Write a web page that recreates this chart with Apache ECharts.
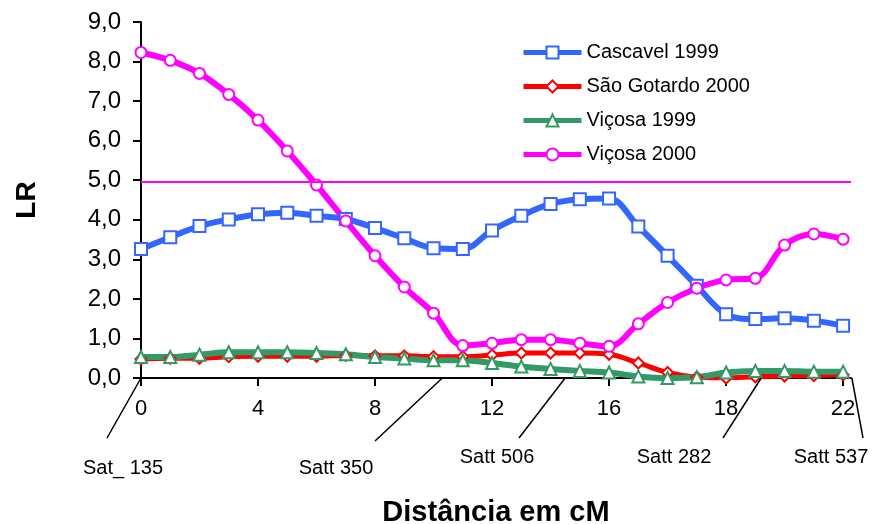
<!DOCTYPE html>
<html>
<head>
<meta charset="utf-8">
<script src="https://cdn.jsdelivr.net/npm/echarts@6/dist/echarts.min.js"></script>
<style>
  html, body { margin: 0; padding: 0; background: #fff; }
  #chart { width: 874px; height: 524px; }
</style>
</head>
<body>
<div id="chart"></div>
<script>
// Map positions along the linkage group (evenly spaced steps)
const positions = [0, 1, 2, 3, 4, 5, 6, 7, 8, 9, 10, 11, 12, 13, 14, 15, 16, 17, 18, 19, 20, 21, 22, 23, 24];

// Axis tick values and the labels printed under them
const xTickValues = [0, 4, 8, 12, 16, 20, 24];
const xTickLabels = ['0', '4', '8', '12', '16', '18', '22'];

// LR profiles
const cascavel1999 = [3.26, 3.56, 3.84, 4.01, 4.14, 4.18, 4.10, 4.02, 3.79, 3.53, 3.28, 3.26, 3.73,
                      4.10, 4.40, 4.52, 4.54, 3.83, 3.09, 2.33, 1.61, 1.49, 1.51, 1.45, 1.32];
const saoGotardo2000 = [0.48, 0.50, 0.50, 0.54, 0.55, 0.55, 0.55, 0.57, 0.56, 0.56, 0.54, 0.54, 0.58,
                        0.63, 0.63, 0.63, 0.60, 0.38, 0.14, 0.02, 0.00, 0.03, 0.05, 0.06, 0.08];
const vicosa1999 = [0.53, 0.53, 0.59, 0.65, 0.65, 0.65, 0.63, 0.60, 0.53, 0.49, 0.45, 0.45, 0.38,
                    0.29, 0.23, 0.18, 0.14, 0.04, 0.00, 0.02, 0.14, 0.18, 0.18, 0.16, 0.16];
const vicosa2000 = [8.23, 8.03, 7.70, 7.17, 6.52, 5.74, 4.88, 3.97, 3.09, 2.30, 1.64, 0.82, 0.88,
                    0.97, 0.97, 0.88, 0.80, 1.37, 1.91, 2.27, 2.48, 2.52, 3.36, 3.64, 3.51];

// Significance threshold
const lrThreshold = 4.95;

// Microsatellite markers and their map positions
const markerNames = ['Sat_ 135', 'Satt 350', 'Satt 506', 'Satt 282', 'Satt 537'];
const markerPositions = [0, 10.3, 14.5, 21.2, 24.3];

const FONT = "'Liberation Sans', Arial, Helvetica, sans-serif";

function pairs(values) {
  return positions.map((p, i) => [p, values[i]]);
}

function lineSeries(name, values, color, symbol, symbolSize, width) {
  return {
    name: name,
    type: 'line',
    data: pairs(values),
    smooth: 0.35,
    symbol: symbol,
    symbolSize: symbolSize,
    showAllSymbol: true,
    lineStyle: { color: color, width: width },
    itemStyle: { color: '#ffffff', borderColor: color, borderWidth: 2 },
    emphasis: { disabled: true },
    animation: false
  };
}

const chart = echarts.init(document.getElementById('chart'), null, { renderer: 'canvas' });

const magenta = lineSeries('Viçosa 2000', vicosa2000, '#ff00ff', 'circle', 11, 6);
magenta.markLine = {
  silent: true,
  symbol: 'none',
  label: { show: false },
  lineStyle: { color: '#ff00ff', width: 2, type: 'solid' },
  data: [{ yAxis: lrThreshold }],
  animation: false
};

chart.setOption({
  backgroundColor: '#ffffff',
  animation: false,
  textStyle: { fontFamily: FONT },
  grid: { left: 141, right: 23, top: 22, bottom: 146, outerBoundsMode: 'none' },
  legend: {
    left: 516,
    top: 37,
    orient: 'vertical',
    itemWidth: 58,
    itemHeight: 15,
    itemGap: 13,
    selectedMode: false,
    lineStyle: { width: 5 },
    textStyle: { fontFamily: FONT, fontSize: 20, color: '#000', lineHeight: 21 },
    data: ['Cascavel 1999', 'São Gotardo 2000', 'Viçosa 1999', 'Viçosa 2000']
  },
  xAxis: {
    type: 'value',
    min: 0,
    max: 24.27,
    splitLine: { show: false },
    axisLine: { onZero: false, lineStyle: { color: '#000', width: 2 } },
    axisTick: { show: true, length: 8, lineStyle: { color: '#000', width: 2 }, customValues: xTickValues },
    axisLabel: {
      customValues: xTickValues,
      formatter: v => xTickLabels[xTickValues.indexOf(Math.round(v))] || '',
      fontFamily: FONT, fontSize: 22, color: '#000', margin: 20
    },
    name: 'Distância em cM',
    nameLocation: 'middle',
    nameGap: 120,
    nameTextStyle: { fontFamily: FONT, fontSize: 29, fontWeight: 'bold', color: '#000' }
  },
  yAxis: {
    type: 'value',
    min: 0,
    max: 9,
    interval: 1,
    splitLine: { show: false },
    axisLine: { show: true, lineStyle: { color: '#000', width: 2 } },
    axisTick: { show: true, length: 8, lineStyle: { color: '#000', width: 2 } },
    axisLabel: {
      formatter: v => v.toFixed(1).replace('.', ','),
      fontFamily: FONT, fontSize: 24, color: '#000', margin: 20
    },
    name: 'LR',
    nameLocation: 'middle',
    nameGap: 100,
    nameRotate: 90,
    nameTextStyle: { fontFamily: FONT, fontSize: 28, fontWeight: 'bold', color: '#000' }
  },
  series: [
    lineSeries('Cascavel 1999', cascavel1999, '#3366ff', 'rect', 12, 6),
    lineSeries('São Gotardo 2000', saoGotardo2000, '#ff0000', 'diamond', 11, 5),
    lineSeries('Viçosa 1999', vicosa1999, '#339966', 'triangle', 12, 6),
    magenta
  ]
});

// Marker leader lines and names beneath the axis
const labelLayout = [
  { tx: 123, ty: 468, bx: 107, by: 438 },
  { tx: 336, ty: 468, bx: 375, by: 441 },
  { tx: 497, ty: 457, bx: 519, by: 438 },
  { tx: 674, ty: 457, bx: 723, by: 438 },
  { tx: 831, ty: 457, bx: 863, by: 438 }
];
const graphics = [];
markerNames.forEach((name, i) => {
  const top = chart.convertToPixel({ gridIndex: 0 }, [markerPositions[i], 0]);
  const lay = labelLayout[i];
  graphics.push({
    type: 'line',
    silent: true,
    shape: { x1: top[0], y1: top[1], x2: lay.bx, y2: lay.by },
    style: { stroke: '#000', lineWidth: 1.5 },
    z: 100
  });
  graphics.push({
    type: 'text',
    silent: true,
    x: lay.tx,
    y: lay.ty,
    style: {
      text: name,
      font: '20px ' + FONT,
      fill: '#000',
      align: 'center',
      verticalAlign: 'middle'
    },
    z: 100
  });
});
chart.setOption({ graphic: graphics });
</script>
</body>
</html>
